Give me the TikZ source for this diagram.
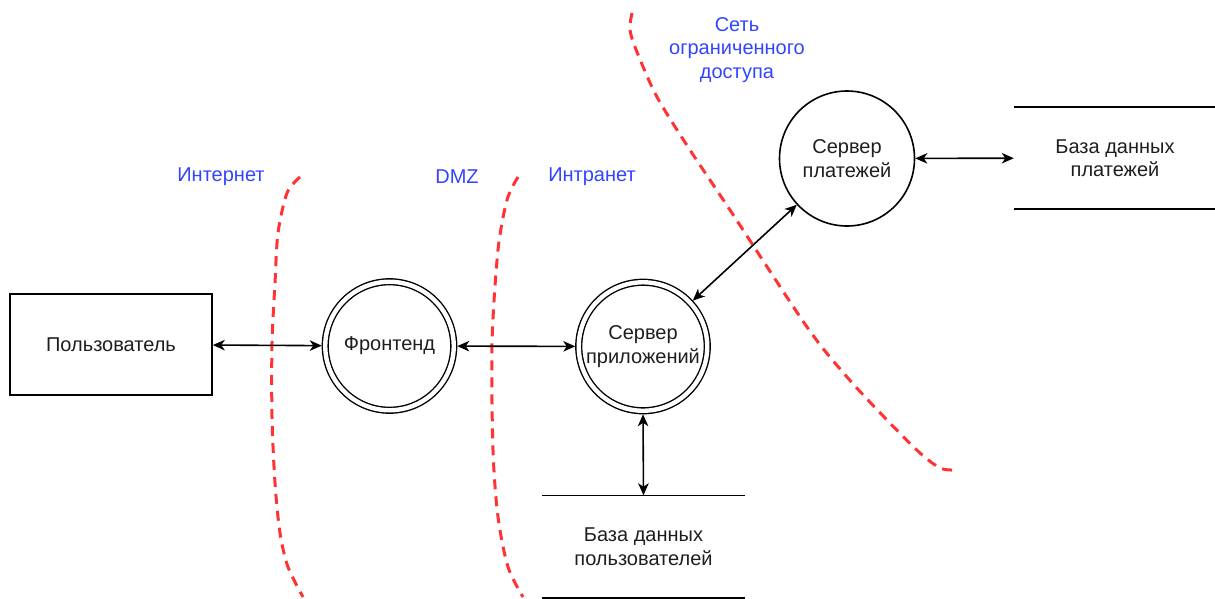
\documentclass[tikz,border=0pt]{standalone}
\usepackage{fontspec}
\setmainfont{Liberation Sans}
\usetikzlibrary{arrows.meta}
\definecolor{zonered}{RGB}{255,51,51}
\definecolor{zoneblue}{RGB}{51,68,255}
\definecolor{inkgray}{RGB}{30,30,30}
\begin{document}
\begin{tikzpicture}[x=1pt,y=-1pt,
  every node/.style={font=\fontsize{20}{23.5}\selectfont, align=center, inner sep=0pt, text=inkgray},
  conn/.style={line width=1.6pt, {Stealth[length=12pt,width=10.5pt,inset=3.5pt]}-{Stealth[length=12pt,width=10.5pt,inset=3.5pt]}},
  boxnode/.style={draw, line width=1.6pt, minimum width=202pt, minimum height=101pt},
  dblcircle/.style={circle, draw, line width=1.4pt, double, double distance=4.4pt, minimum size=128.5pt, outer sep=3.5pt},
  plaincircle/.style={circle, draw, line width=1.6pt, minimum size=135pt, outer sep=0.8pt},
  store/.style={minimum width=202pt, minimum height=102pt},
  zone/.style={draw=zonered, line width=3pt, dash pattern=on 10pt off 7pt},
  zonelabel/.style={text=zoneblue}
]
\useasboundingbox (0,0) rectangle (1215,598);

% zone boundaries
\draw[zone] plot[smooth] coordinates {(300,177) (287,193) (278,233) (275,283) (272,343) (272,417) (275,483) (280,533) (288,567) (303,597)};
\draw[zone] plot[smooth] coordinates {(518,177) (507,200) (498,250) (492,343) (493,450) (498,517) (508,567) (523,597)};
\draw[zone] plot[smooth] coordinates {(632,13) (630,30) (637,52) (657,97) (690,150) (730,210) (807,327) (847,377) (887,420) (920,453) (940,468) (953,470)};

% zone labels
\node[zonelabel] (lint) at (221,177) {Интернет};
\node[zonelabel] (ldmz) at (457,177) {DMZ};
\node[zonelabel] (lintra) at (592,177) {Интранет};
\node[zonelabel] (lrest) at (737,50) {Сеть\\ограниченного\\доступа};

% nodes
\node[boxnode] (user) at (111,344.5) {Пользователь};
\node[dblcircle] (front) at (389.5,346) {Фронтенд};
\node[dblcircle] (app) at (643,346.5) {Сервер\\приложений};
\node[plaincircle] (pay) at (847,158.5) {Сервер\\платежей};
\node[store] (pdb) at (1115,158) {База данных\\платежей};
\node[store] (udb) at (643.5,546.5) {База данных\\пользователей};

\draw[line width=1.6pt] (pdb.north west) -- (pdb.north east);
\draw[line width=1.6pt] (pdb.south west) -- (pdb.south east);
\draw[line width=1.6pt] (udb.north west) -- (udb.north east);
\draw[line width=1.6pt] (udb.south west) -- (udb.south east);

% connectors
\draw[conn] (user) -- (front);
\draw[conn] (front) -- (app);
\draw[conn] (app.south) -- (udb.north);
\draw[conn] (app) -- (pay);
\draw[conn] (pay) -- (pdb);
\end{tikzpicture}
\end{document}
